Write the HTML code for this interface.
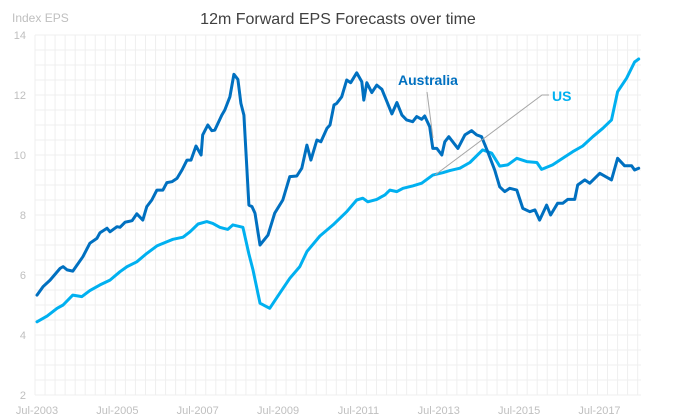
<!DOCTYPE html>
<html><head><meta charset="utf-8"><style>
html,body{margin:0;padding:0;background:#fff;}
svg{display:block;font-family:"Liberation Sans",sans-serif;}
</style></head><body>
<svg id="chart" width="675" height="417" viewBox="0 0 675 417" xmlns="http://www.w3.org/2000/svg">
<g id="grid"></g>
<g id="yticks"></g>
<g id="xticks"></g>
<g id="series"></g>
<text x="338" y="24" text-anchor="middle" font-size="16" fill="#404040">12m Forward EPS Forecasts over time</text>
<text x="12" y="22" font-size="12" fill="#bfbfbf">Index EPS</text>
<polyline points="427,92 433,138" fill="none" stroke="#a6a6a6" stroke-width="1"/>
<text x="398" y="85" font-size="14" font-weight="bold" fill="#0070c0">Australia</text>
<polyline points="435,175 542,95 549,95" fill="none" stroke="#a6a6a6" stroke-width="1"/>
<text x="552" y="101" font-size="14" font-weight="bold" fill="#00b0f0">US</text>
</svg>
<script>
// months since Jul-2003
const ausMonths=[0.6,2.4,4.5,7.5,8.4,9.6,11.3,14.3,16.4,18.5,19.4,21.5,22.4,24.5,25.4,26.9,29,30.4,32.2,33.4,34.9,36.4,38.2,39.4,40.9,42.4,43.9,45.4,46.6,48.1,49.6,50.1,51.6,52.8,53.7,55.8,56.7,58.2,59.4,60.6,61.5,62.4,63.9,64.8,65.7,67.2,69.6,71.6,74,76.1,78.2,79.7,81.2,82.4,84.2,85.4,87.2,88.1,89.3,90.1,91.6,93.1,94.3,96.1,97.6,98.2,99.1,100.6,102.1,103.6,105.1,106.6,108.1,109.6,111,112.8,114,115.5,116.4,117.9,118.8,120,121.5,122.4,123.6,126.3,128.4,130.4,131.9,133.4,135.2,137.3,138.8,140.3,141.8,143.9,145.7,147.8,149.3,150.7,152.8,154,156.1,157.6,159.1,161.2,162.1,164.2,165.7,168.7,172.2,174,176.1,178.2,179.1,180.3];
const ausValues=[5.33,5.61,5.83,6.22,6.28,6.17,6.13,6.61,7.06,7.22,7.41,7.56,7.44,7.61,7.59,7.76,7.81,8.04,7.83,8.28,8.5,8.83,8.83,9.08,9.11,9.22,9.5,9.83,9.83,10.3,10.0,10.67,11.0,10.81,10.83,11.33,11.5,11.94,12.69,12.52,11.72,11.33,8.33,8.28,8.06,7.0,7.33,8.06,8.5,9.28,9.3,9.56,10.33,9.83,10.5,10.44,10.89,11.0,11.67,11.72,11.94,12.5,12.41,12.74,12.44,11.83,12.41,12.08,12.33,12.19,11.78,11.37,11.75,11.33,11.17,11.11,11.28,11.19,11.3,10.94,10.22,10.22,10.0,10.44,10.61,10.22,10.67,10.81,10.67,10.61,10.11,9.5,8.94,8.78,8.89,8.83,8.22,8.11,8.17,7.83,8.33,8.0,8.39,8.39,8.52,8.52,9.0,9.17,9.06,9.39,9.17,9.89,9.64,9.64,9.5,9.56];
const usMonths=[0.6,3.6,6.6,8.4,11.3,14,16.4,19.4,22.4,25.4,27.5,30.4,33.4,36.4,39.4,41.2,44.2,46.3,48.7,51.3,53.1,55.2,57.6,59.1,62.1,63.9,65.1,67.2,70.1,73.1,76.1,79.1,81.2,85.1,89,93.1,96.1,97.9,99.4,102.1,104.5,106,108.1,109.9,112.8,115.5,118.8,121.8,123.9,126.9,129.9,133.7,136.4,138.8,141.2,143.9,146.9,149.9,151.3,154.6,157.6,160.6,163.6,166.6,169.6,172.2,174,176.7,179.1,180.3];
const usValues=[4.44,4.63,4.89,5.0,5.33,5.28,5.48,5.67,5.83,6.11,6.28,6.44,6.72,6.97,7.11,7.19,7.26,7.44,7.7,7.78,7.72,7.59,7.52,7.67,7.59,6.7,6.17,5.06,4.89,5.39,5.89,6.28,6.78,7.3,7.67,8.11,8.5,8.56,8.44,8.52,8.67,8.83,8.78,8.89,8.97,9.06,9.33,9.41,9.48,9.56,9.75,10.17,10.06,9.63,9.67,9.89,9.78,9.75,9.52,9.67,9.89,10.11,10.3,10.61,10.89,11.17,12.11,12.56,13.1,13.2];
const yTicks=[2,4,6,8,10,12,14];
const xTickLabels=["Jul-2003","Jul-2005","Jul-2007","Jul-2009","Jul-2011","Jul-2013","Jul-2015","Jul-2017"];
const xTickMonths=[0,24,48,72,96,120,144,168];

const NS="http://www.w3.org/2000/svg";
const X0=35,X1=641,MMAX=181,Y0=395,Y1=35,VMIN=2,VMAX=14;
function xs(m){return X0+(m/MMAX)*(X1-X0);}
function ys(v){return Y0-(v-VMIN)/(VMAX-VMIN)*(Y0-Y1);}
function mk(tag,attrs,parent){const e=document.createElementNS(NS,tag);for(const k in attrs)e.setAttribute(k,attrs[k]);parent.appendChild(e);return e;}
const grid=document.getElementById('grid');
for(let v=VMIN;v<=VMAX+0.001;v+=0.5){
  const l=mk('line',{x1:X0,x2:X1,y1:ys(v),y2:ys(v),stroke:'#efefef','stroke-width':1},grid);
  
  
}
for(let m=0;m<=MMAX;m+=3){
  const l=mk('line',{x1:xs(m),x2:xs(m),y1:Y1,y2:Y0,stroke:'#efefef','stroke-width':1},grid);
  
  
}
const yt=document.getElementById('yticks');
yTicks.forEach(v=>{
  const t=mk('text',{x:26,y:ys(v)+4,'text-anchor':'end','font-size':11,fill:'#bfbfbf'},yt);
  t.textContent=v;
  
  
});
const xt=document.getElementById('xticks');
xTickLabels.forEach((lab,i)=>{
  const t=mk('text',{x:xs(xTickMonths[i])+2,y:414,'text-anchor':'middle','font-size':11,fill:'#bfbfbf'},xt);
  t.textContent=lab;
  
  
});
const sg=document.getElementById('series');
function line(ms,vs,color,name){
  const p=ms.map((m,i)=>xs(m).toFixed(1)+','+ys(vs[i]).toFixed(1)).join(' ');
  const pl=mk('polyline',{points:p,fill:'none',stroke:color,'stroke-width':3,'stroke-linejoin':'round','stroke-linecap':'round'},sg);
  
  
}
line(usMonths,usValues,'#00b0f0','us-line');
line(ausMonths,ausValues,'#0070c0','australia-line');
</script>
</body></html>
